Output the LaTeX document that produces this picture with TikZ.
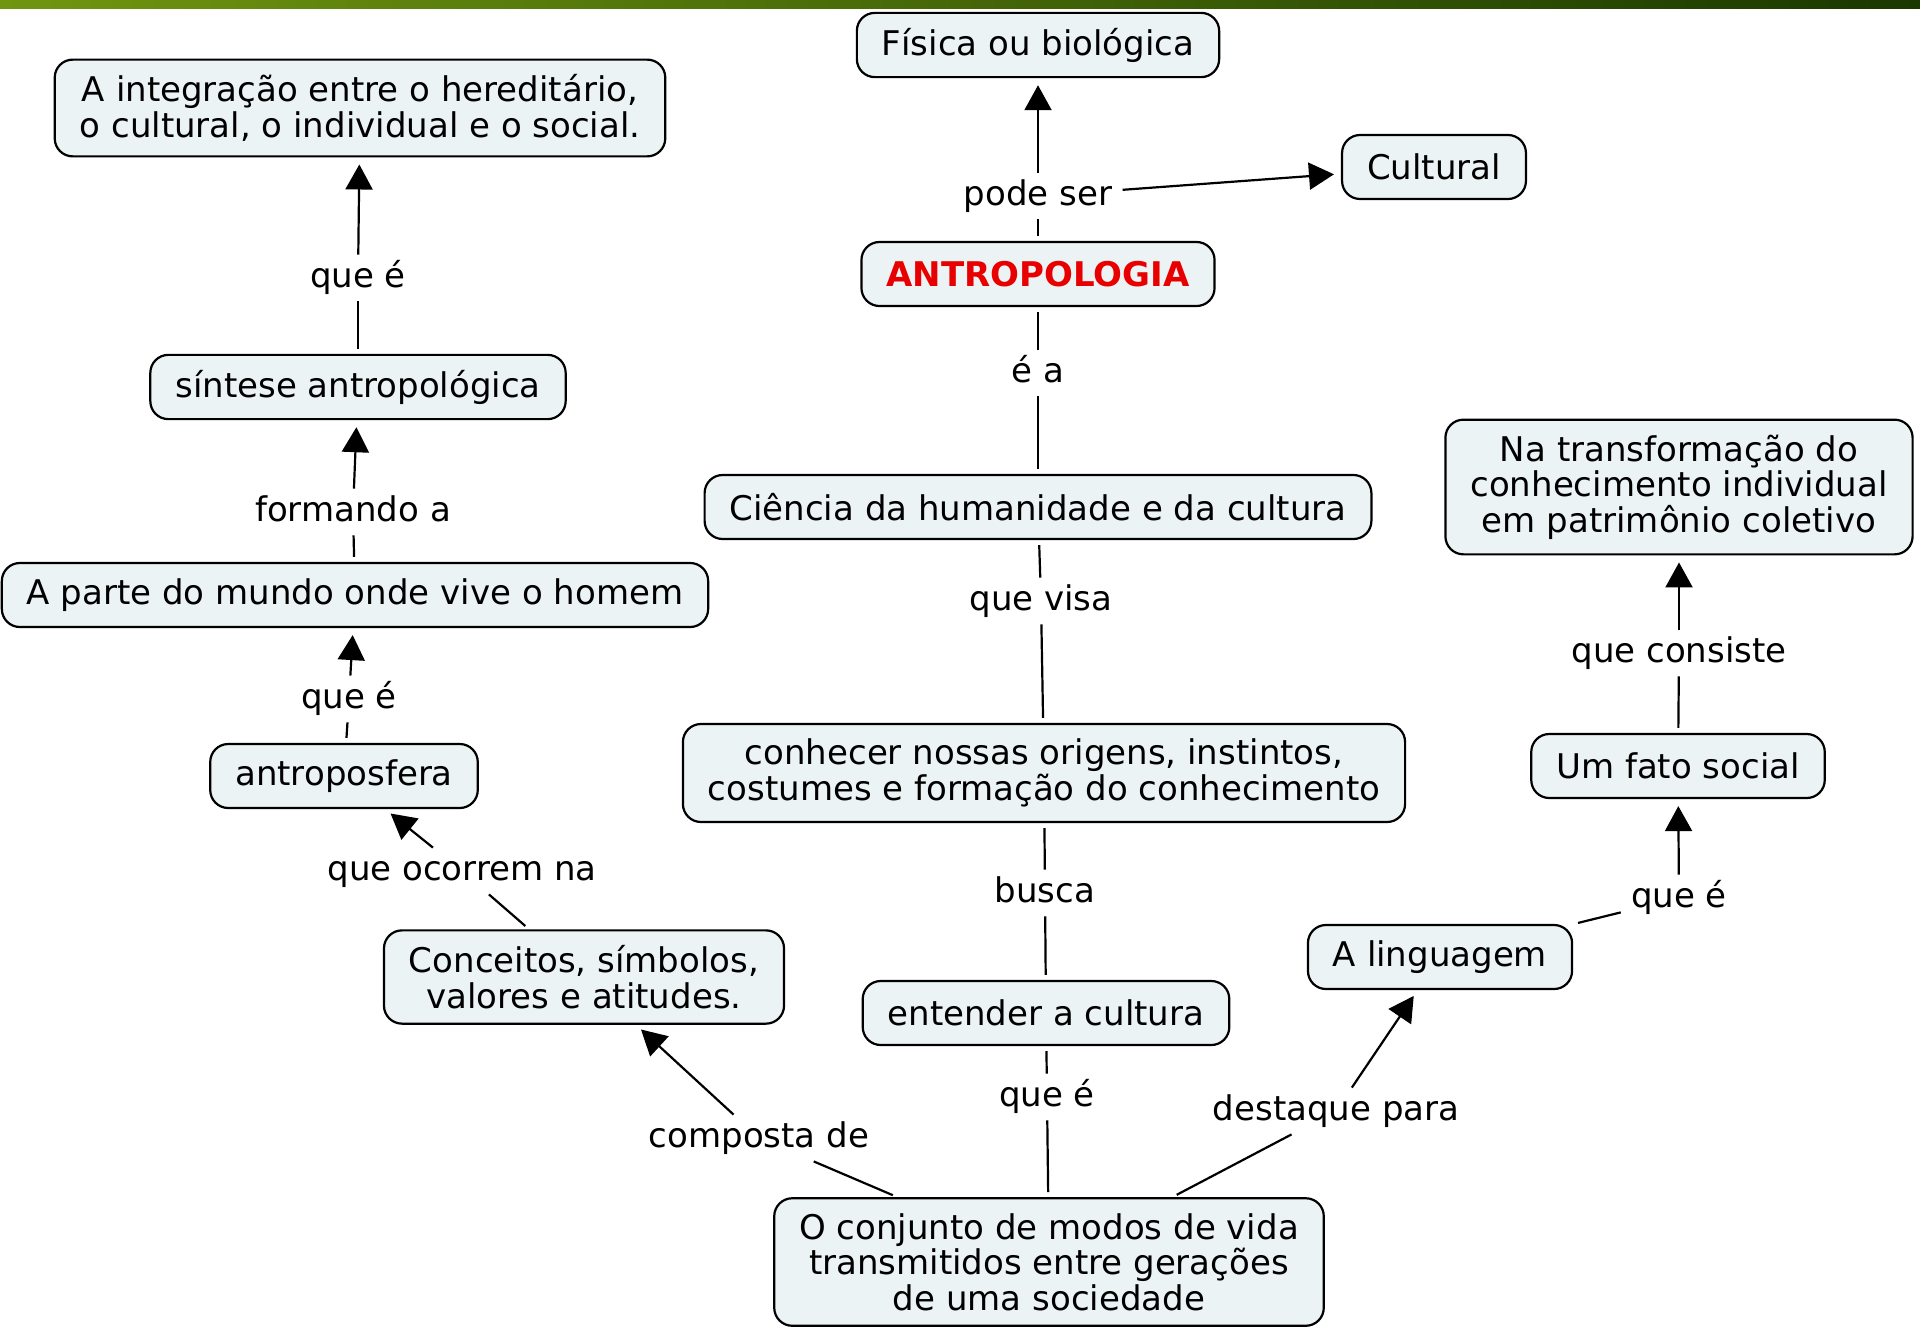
\documentclass[tikz,border=0pt]{standalone}
\usepackage{fontspec}
\setmainfont{DejaVu Sans}
\usetikzlibrary{arrows.meta}

\definecolor{boxfill}{RGB}{236,243,245}
\definecolor{balkenhell}{RGB}{112,150,16}
\definecolor{balkenmitte}{RGB}{98,152,4}
\definecolor{balkendunkel}{RGB}{26,56,0}
\definecolor{rot}{RGB}{232,0,0}

\tikzset{
	konzept/.style={draw, line width=1.1pt, fill=boxfill, rounded corners=9pt, align=center,
		inner xsep=12.5pt, inner ysep=7.5pt, minimum height=32pt},
	verb/.style={inner xsep=5pt, inner ysep=3pt, text height=13pt, text depth=4pt},
	linie/.style={line width=1.1pt, shorten <=2.5pt},
	pfeil/.style={line width=1.1pt, -{Triangle[length=12.5pt,width=13.5pt]}, shorten >=3.5pt},
}

\begin{document}
\begin{tikzpicture}[x=0.5pt,y=-0.5pt, every node/.style={font=\fontsize{17pt}{17.8pt}\selectfont}]
	\useasboundingbox (0,0) rectangle (1920,1333);
	
	% Balken oben
	\shade[left color=balkenhell, middle color=balkenmitte, right color=balkendunkel] (0,0) rectangle (1920,8);
	
	% Konzepte
	\node[konzept] (fisica) at (1038,45) {Física ou biológica};
	\node[konzept] (cultural) at (1434,167) {Cultural};
	\node[konzept, text=rot, font=\fontsize{17pt}{17.8pt}\selectfont\bfseries] (antrop) at (1038,274) {ANTROPOLOGIA};
	\node[konzept] (integ) at (360,108) {A integração entre o hereditário,\\ o cultural, o individual e o social.};
	\node[konzept] (sintese) at (358,387) {síntese antropológica};
	\node[konzept] (parte) at (355,595) {A parte do mundo onde vive o homem};
	\node[konzept] (antrosf) at (344,776) {antroposfera};
	\node[konzept] (ciencia) at (1038,507) {Ciência da humanidade e da cultura};
	\node[konzept] (conhecer) at (1044,773) {conhecer nossas origens, instintos,\\ costumes e formação do conhecimento};
	\node[konzept] (conceitos) at (584,977) {Conceitos, símbolos,\\ valores e atitudes.};
	\node[konzept] (entender) at (1046,1013) {entender a cultura};
	\node[konzept] (conjunto) at (1049,1262) {O conjunto de modos de vida\\ transmitidos entre gerações\\ de uma sociedade};
	\node[konzept] (linguagem) at (1440,957) {A linguagem};
	\node[konzept] (fato) at (1678,766) {Um fato social};
	\node[konzept] (transf) at (1679,487) {Na transformação do\\ conhecimento individual\\ em patrimônio coletivo};
	
	% Verbindungswoerter
	\node[verb] (lpode) at (1038,196) {pode ser};
	\node[verb] (lea) at (1038,373) {é a};
	\node[verb] (lqueint) at (358,278) {que é};
	\node[verb] (lform) at (353,512) {formando a};
	\node[verb] (lqueant) at (349,699) {que é};
	\node[verb] (locorr) at (462,871) {que ocorrem na};
	\node[verb] (lvisa) at (1041,601) {que visa};
	\node[verb] (lbusca) at (1045,893) {busca};
	\node[verb] (lqueent) at (1047,1097) {que é};
	\node[verb] (lcomp) at (759,1138) {composta de};
	\node[verb] (ldest) at (1336,1111) {destaque para};
	\node[verb] (lqueling) at (1679,898) {que é};
	\node[verb] (lcons) at (1679,653) {que consiste};
	
	% Linien und Pfeile
	\draw[linie] (antrop) -- (lpode);
	\draw[pfeil] (lpode) -- (fisica);
	\draw[pfeil] (lpode) -- (cultural);
	
	\draw[linie] (antrop) -- (lea);
	\draw[linie] (ciencia) -- (lea);
	\draw[linie] (ciencia) -- (lvisa);
	\draw[linie] (conhecer) -- (lvisa);
	\draw[linie] (conhecer) -- (lbusca);
	\draw[linie] (entender) -- (lbusca);
	\draw[linie] (entender) -- (lqueent);
	\draw[linie] (conjunto) -- (lqueent);
	
	\draw[linie] (conjunto) -- (lcomp);
	\draw[pfeil] (lcomp) -- (conceitos);
	\draw[linie] (conceitos) -- (locorr);
	\draw[pfeil] (locorr) -- (antrosf);
	\draw[linie] (antrosf) -- (lqueant);
	\draw[pfeil] (lqueant) -- (parte);
	\draw[linie] (parte) -- (lform);
	\draw[pfeil] (lform) -- (sintese);
	\draw[linie] (sintese) -- (lqueint);
	\draw[pfeil] (lqueint) -- (integ);
	
	\draw[linie] (conjunto) -- (ldest);
	\draw[pfeil] (ldest) -- (linguagem);
	\draw[linie] (linguagem) -- (lqueling);
	\draw[pfeil] (lqueling) -- (fato);
	\draw[linie] (fato) -- (lcons);
	\draw[pfeil] (lcons) -- (transf);
	
\end{tikzpicture}
\end{document}
